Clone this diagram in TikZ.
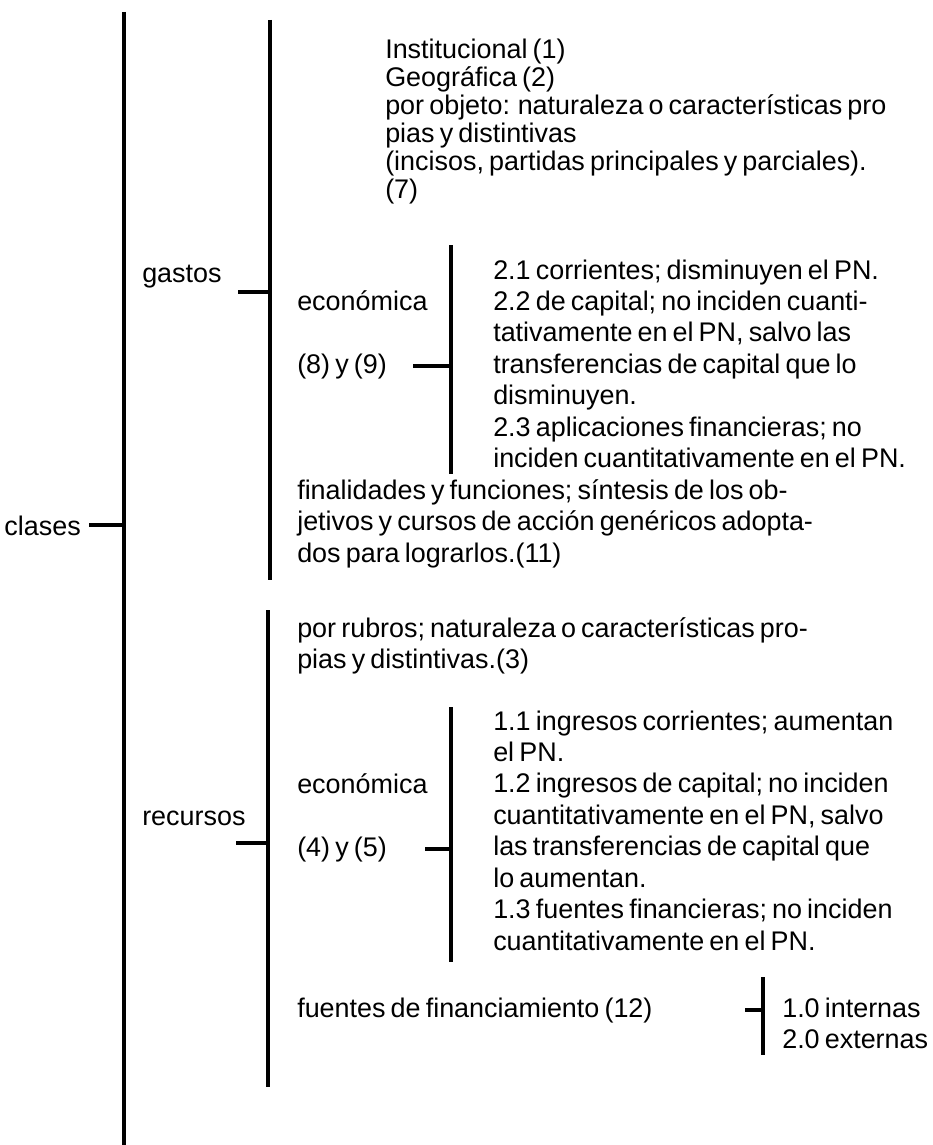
\documentclass[tikz,border=0pt]{standalone}
\usepackage{fontspec}
\setmainfont{Liberation Sans}
\newcommand{\txtsize}{\fontsize{20.2pt}{23.6pt}\selectfont\fontdimen2\font=0.19em\lineskiplimit=-100pt\lineskip=0pt}
\newcommand{\topsize}{\fontsize{20.2pt}{21pt}\selectfont\fontdimen2\font=0.19em\lineskiplimit=-100pt\lineskip=0pt}
\tikzset{
  rule/.style={line width=2.5pt, line cap=butt},
  blk/.style={inner sep=0pt, anchor=base west, align=flush left, text width=520pt, font=\txtsize},
  lbl/.style={inner sep=0pt, anchor=base west, font=\txtsize},
}
\begin{document}
\begin{tikzpicture}[x=0.75pt,y=-0.75pt]
\useasboundingbox (0,0) rectangle (932,1145);
% main level
\coordinate (mainTop) at (124,12);
\coordinate (mainBot) at (124,1145);
\draw[rule] (mainTop) -- (mainBot);
\node[lbl, anchor=base east] (clases) at (81,535) {clases};
\coordinate (clasesS) at (89,525);
\coordinate (clasesT) at (124,525);
\draw[rule] (clasesS) -- (clasesT);

% gastos
\coordinate (gTop) at (270,20);
\coordinate (gBot) at (270,580);
\draw[rule] (gTop) -- (gBot);
\node[lbl] (gastos) at (142,282) {gastos};
\coordinate (gTickS) at (238,292);
\coordinate (gTickE) at (270,292);
\draw[rule] (gTickS) -- (gTickE);

\node[blk, font=\topsize] (top) at (385,59) {Institucional (1)\\Geográfica (2)\\por objeto: naturaleza o características pro\\pias y distintivas\\(incisos, partidas principales y parciales).\\(7)};

\node[lbl] (geco) at (297,310) {económica};
\node[lbl] (g89) at (297,373) {(8) y (9)};
\coordinate (gInTop) at (451,245);
\coordinate (gInBot) at (451,474);
\draw[rule] (gInTop) -- (gInBot);
\coordinate (g89S) at (413,366);
\coordinate (g89E) at (451,366);
\draw[rule] (g89S) -- (g89E);
\node[blk] (gdet) at (493,279) {2.1 corrientes; disminuyen el PN.\\2.2 de capital; no inciden cuanti-\\tativamente en el PN, salvo las\\transferencias de capital que lo\\disminuyen.\\2.3 aplicaciones financieras; no\\inciden cuantitativamente en el PN.};
\node[blk] (gfin) at (297,499.5) {finalidades y funciones; síntesis de los ob-\\jetivos y cursos de acción genéricos adopta-\\dos para lograrlos.(11)};

% recursos
\coordinate (rTop) at (268,610);
\coordinate (rBot) at (268,1087);
\draw[rule] (rTop) -- (rBot);
\node[lbl] (recursos) at (142,825) {recursos};
\coordinate (rTickS) at (236,843);
\coordinate (rTickE) at (268,843);
\draw[rule] (rTickS) -- (rTickE);

\node[blk] (rrub) at (297,637) {por rubros; naturaleza o características pro-\\pias y distintivas.(3)};
\node[lbl] (reco) at (297,793) {económica};
\node[lbl] (r45) at (297,856) {(4) y (5)};
\coordinate (rInTop) at (451,707);
\coordinate (rInBot) at (451,962);
\draw[rule] (rInTop) -- (rInBot);
\coordinate (r45S) at (425,849);
\coordinate (r45E) at (451,849);
\draw[rule] (r45S) -- (r45E);
\node[blk] (rdet) at (493,730) {1.1 ingresos corrientes; aumentan\\el PN.\\1.2 ingresos de capital; no inciden\\cuantitativamente en el PN, salvo\\las transferencias de capital que\\lo aumentan.\\1.3 fuentes financieras; no inciden\\cuantitativamente en el PN.};

\node[lbl] (rfuen) at (297,1017) {fuentes de financiamiento (12)};
\coordinate (fTop) at (763,977);
\coordinate (fBot) at (763,1055);
\draw[rule] (fTop) -- (fBot);
\coordinate (fTickS) at (745,1010);
\coordinate (fTickE) at (763,1010);
\draw[rule] (fTickS) -- (fTickE);
\node[blk] (fdet) at (782,1017) {1.0 internas\\2.0 externas};
\end{tikzpicture}
\end{document}
